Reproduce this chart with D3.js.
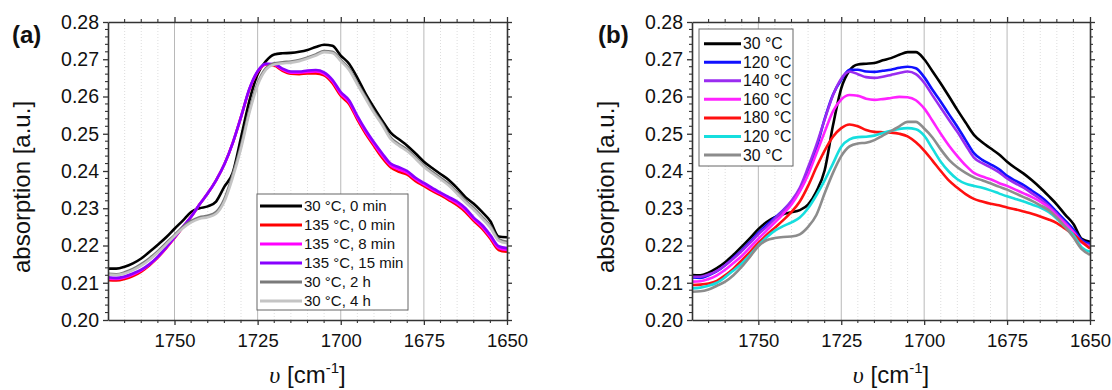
<!DOCTYPE html>
<html><head><meta charset="utf-8">
<script src="https://cdn.jsdelivr.net/npm/d3@7"></script>
<style>
body{margin:0;background:#fff}
svg{display:block}
text{font-family:"Liberation Sans",Arial,sans-serif;fill:#111}
</style>
</head><body>
<svg id="chart" width="1112" height="390"></svg>
<script>
// ---------- data ----------
const wavenumber = [1770,1767.5,1765,1762.5,1760,1757.5,1755,1752.5,1750,1747.5,1745,1742.5,1740,1737.5,1735,1732.5,1730,1727.5,1725,1722.5,1720,1717.5,1715,1712.5,1710,1707.5,1705,1702.5,1700,1697.5,1695,1692.5,1690,1687.5,1685,1682.5,1680,1677.5,1675,1672.5,1670,1667.5,1665,1662.5,1660,1657.5,1655,1652.5,1650];
const xTickValues = [1750,1725,1700,1675,1650];
const yTickValues = [0.20,0.21,0.22,0.23,0.24,0.25,0.26,0.27,0.28];

// panel (a)
const labelsA = ["30 °C, 0 min","135 °C, 0 min","135 °C, 8 min","135 °C, 15 min","30 °C, 2 h","30 °C, 4 h"];
const colorsA = ["#000000","#ff0000","#ff00ff","#8800ff","#7a7a7a","#c4c4c4"];
const a_30C_0min = [0.2138,0.2138,0.2143,0.2152,0.2165,0.2183,0.2202,0.2222,0.2245,0.2267,0.2290,0.2300,0.2305,0.2318,0.2358,0.2395,0.2490,0.2588,0.2660,0.2695,0.2713,0.2716,0.2717,0.2720,0.2725,0.2733,0.2739,0.2736,0.2710,0.2688,0.2650,0.2607,0.2570,0.2535,0.2503,0.2485,0.2468,0.2447,0.2425,0.2408,0.2392,0.2376,0.2354,0.2330,0.2312,0.2290,0.2265,0.2224,0.2222];
const a_135C_0min = [0.2107,0.2106,0.2110,0.2118,0.2130,0.2147,0.2168,0.2193,0.2220,0.2249,0.2277,0.2310,0.2340,0.2375,0.2418,0.2475,0.2545,0.2618,0.2666,0.2686,0.2683,0.2669,0.2661,0.2660,0.2662,0.2662,0.2657,0.2636,0.2602,0.2580,0.2538,0.2500,0.2467,0.2435,0.2410,0.2398,0.2390,0.2373,0.2360,0.2347,0.2335,0.2322,0.2308,0.2290,0.2266,0.2245,0.2218,0.2188,0.2183];
const a_135C_8min = [0.2111,0.2110,0.2114,0.2122,0.2133,0.2149,0.2169,0.2194,0.2221,0.2250,0.2277,0.2310,0.2340,0.2375,0.2418,0.2475,0.2545,0.2619,0.2667,0.2687,0.2685,0.2672,0.2664,0.2664,0.2666,0.2667,0.2661,0.2641,0.2607,0.2585,0.2543,0.2505,0.2472,0.2441,0.2415,0.2404,0.2395,0.2378,0.2364,0.2351,0.2339,0.2326,0.2313,0.2295,0.2271,0.2250,0.2223,0.2193,0.2188];
const a_135C_15min = [0.2115,0.2113,0.2117,0.2125,0.2135,0.2150,0.2170,0.2195,0.2222,0.2250,0.2277,0.2310,0.2340,0.2375,0.2418,0.2475,0.2545,0.2620,0.2668,0.2688,0.2687,0.2675,0.2667,0.2667,0.2670,0.2671,0.2665,0.2645,0.2612,0.2590,0.2548,0.2510,0.2477,0.2447,0.2420,0.2410,0.2400,0.2382,0.2368,0.2355,0.2342,0.2330,0.2318,0.2300,0.2275,0.2255,0.2228,0.2198,0.2193];
const a_30C_2h = [0.2124,0.2123,0.2128,0.2137,0.2150,0.2166,0.2185,0.2207,0.2228,0.2250,0.2266,0.2276,0.2280,0.2290,0.2325,0.2390,0.2468,0.2562,0.2635,0.2676,0.2689,0.2692,0.2694,0.2698,0.2705,0.2713,0.2722,0.2720,0.2698,0.2675,0.2636,0.2598,0.2560,0.2527,0.2490,0.2472,0.2457,0.2437,0.2415,0.2398,0.2382,0.2365,0.2343,0.2320,0.2300,0.2277,0.2252,0.2217,0.2210];
const a_30C_4h = [0.2122,0.2121,0.2125,0.2134,0.2146,0.2162,0.2181,0.2203,0.2225,0.2246,0.2262,0.2272,0.2276,0.2285,0.2318,0.2382,0.2460,0.2555,0.2630,0.2672,0.2686,0.2689,0.2691,0.2695,0.2702,0.2710,0.2719,0.2717,0.2695,0.2671,0.2632,0.2594,0.2556,0.2523,0.2486,0.2468,0.2453,0.2433,0.2411,0.2394,0.2378,0.2361,0.2339,0.2316,0.2296,0.2273,0.2248,0.2213,0.2206];

// panel (b)
const labelsB = ["30 °C","120 °C","140 °C","160 °C","180 °C","120 °C","30 °C"];
const colorsB = ["#000000","#1010ff","#9a2cf0","#ff22ff","#ff1010","#16dede","#8c8c8c"];
const b_30C = [0.2121,0.2120,0.2127,0.2139,0.2155,0.2175,0.2197,0.2220,0.2244,0.2263,0.2276,0.2284,0.2289,0.2295,0.2310,0.2345,0.2402,0.2522,0.2622,0.2670,0.2686,0.2688,0.2690,0.2697,0.2703,0.2712,0.2719,0.2719,0.2700,0.2668,0.2635,0.2600,0.2564,0.2530,0.2497,0.2477,0.2461,0.2445,0.2425,0.2408,0.2393,0.2375,0.2355,0.2333,0.2310,0.2283,0.2258,0.2218,0.2210];
const b_120C = [0.2114,0.2113,0.2120,0.2131,0.2147,0.2167,0.2187,0.2210,0.2234,0.2255,0.2275,0.2295,0.2318,0.2348,0.2395,0.2460,0.2540,0.2605,0.2645,0.2672,0.2672,0.2667,0.2666,0.2669,0.2672,0.2677,0.2680,0.2676,0.2652,0.2618,0.2586,0.2552,0.2519,0.2483,0.2448,0.2430,0.2418,0.2405,0.2387,0.2374,0.2362,0.2347,0.2332,0.2313,0.2290,0.2267,0.2243,0.2215,0.2205];
const b_140C = [0.2116,0.2116,0.2122,0.2132,0.2147,0.2165,0.2185,0.2207,0.2230,0.2250,0.2272,0.2294,0.2320,0.2355,0.2410,0.2470,0.2538,0.2603,0.2648,0.2667,0.2660,0.2652,0.2650,0.2653,0.2658,0.2663,0.2667,0.2660,0.2637,0.2603,0.2570,0.2537,0.2505,0.2470,0.2436,0.2421,0.2410,0.2397,0.2380,0.2367,0.2355,0.2340,0.2325,0.2307,0.2285,0.2262,0.2237,0.2210,0.2200];
const b_160C = [0.2103,0.2104,0.2110,0.2120,0.2135,0.2153,0.2172,0.2195,0.2218,0.2240,0.2262,0.2285,0.2310,0.2345,0.2390,0.2447,0.2505,0.2560,0.2592,0.2604,0.2602,0.2594,0.2591,0.2593,0.2596,0.2599,0.2598,0.2590,0.2568,0.2535,0.2500,0.2468,0.2440,0.2415,0.2395,0.2385,0.2378,0.2368,0.2360,0.2350,0.2340,0.2330,0.2318,0.2302,0.2280,0.2258,0.2235,0.2208,0.2197];
const b_180C = [0.2094,0.2095,0.2098,0.2105,0.2120,0.2138,0.2160,0.2183,0.2207,0.2228,0.2248,0.2268,0.2290,0.2318,0.2360,0.2410,0.2455,0.2492,0.2515,0.2525,0.2520,0.2510,0.2505,0.2504,0.2503,0.2500,0.2493,0.2477,0.2455,0.2428,0.2400,0.2374,0.2355,0.2338,0.2325,0.2318,0.2312,0.2308,0.2302,0.2297,0.2291,0.2285,0.2278,0.2270,0.2260,0.2245,0.2230,0.2210,0.2192];
const b_120C_back = [0.2085,0.2087,0.2092,0.2100,0.2115,0.2133,0.2152,0.2175,0.2200,0.2222,0.2240,0.2252,0.2262,0.2275,0.2300,0.2335,0.2375,0.2420,0.2465,0.2485,0.2491,0.2492,0.2495,0.2502,0.2508,0.2513,0.2515,0.2512,0.2495,0.2460,0.2425,0.2398,0.2378,0.2366,0.2360,0.2355,0.2348,0.2340,0.2332,0.2325,0.2318,0.2310,0.2302,0.2290,0.2272,0.2250,0.2228,0.2195,0.2183];
const b_30C_back = [0.2076,0.2077,0.2082,0.2092,0.2103,0.2120,0.2143,0.2170,0.2198,0.2214,0.2220,0.2223,0.2224,0.2230,0.2250,0.2282,0.2340,0.2395,0.2440,0.2466,0.2474,0.2476,0.2483,0.2495,0.2507,0.2520,0.2532,0.2532,0.2514,0.2490,0.2458,0.2430,0.2410,0.2395,0.2383,0.2375,0.2367,0.2358,0.2350,0.2340,0.2330,0.2320,0.2308,0.2295,0.2275,0.2250,0.2222,0.2190,0.2175];

const seriesA = [a_30C_0min,a_135C_0min,a_135C_8min,a_135C_15min,a_30C_2h,a_30C_4h];
const seriesB = [b_30C,b_120C,b_140C,b_160C,b_180C,b_120C_back,b_30C_back];

// ---------- drawing ----------
const svg = d3.select("#chart");
const plotTop = 22, plotBottom = 320;
const y = d3.scaleLinear().domain([0.20,0.28]).range([plotBottom, plotTop]);
const minorX = d3.range(1765, 1650, -5).filter(v => v % 25 !== 0);
const minorY = d3.range(0, 41).map(i => 0.20 + i*0.002).filter((v,i) => i % 5 !== 0);

function panel(left, right, series, labels, colors, tag, tagX, leg) {
  const x = d3.scaleLinear().domain([1770,1650]).range([left, right]);
  const g = svg.append("g");
  // grid
  g.append("g").selectAll("line").data(minorX).join("line")
    .attr("x1", d => x(d)).attr("x2", d => x(d)).attr("y1", plotTop).attr("y2", plotBottom)
    .attr("stroke", "#d4d4d4").attr("stroke-width", 0.8).attr("stroke-dasharray", "1,2");
  g.append("g").selectAll("line").data(xTickValues.filter(v => v !== 1650)).join("line")
    .attr("x1", d => x(d)).attr("x2", d => x(d)).attr("y1", plotTop).attr("y2", plotBottom)
    .attr("stroke", "#b8b8b8").attr("stroke-width", 1);
  // curves
  const line = d3.line().x((d,i) => x(wavenumber[i])).y(d => y(d)).curve(d3.curveMonotoneX);
  series.forEach((s, k) => {
    g.append("path").attr("d", line(s)).attr("fill", "none")
      .attr("stroke", colors[k]).attr("stroke-width", 2.6).attr("stroke-linejoin", "round");
  });
  // axes
  const axisStyle = fs => sel => {
    sel.select(".domain").attr("stroke", "#333").attr("stroke-width", 1.6);
    sel.selectAll(".tick line").attr("stroke", "#333").attr("stroke-width", 1.3);
    sel.selectAll("text").attr("font-size", fs).attr("fill", "#111")
      .style("font-family", '"Liberation Sans",Arial,sans-serif');
  };
  const fmt = d3.format(".2f");
  g.append("g").attr("transform", `translate(0,${plotBottom})`)
    .call(d3.axisBottom(x).tickValues(xTickValues).tickFormat(d3.format("d")).tickSize(5).tickPadding(9).tickSizeOuter(0))
    .call(axisStyle(18.5));
  g.append("g").attr("transform", `translate(0,${plotTop})`)
    .call(d3.axisTop(x).tickValues(xTickValues).tickFormat("").tickSize(5).tickSizeOuter(0))
    .call(axisStyle(18));
  g.append("g").attr("transform", `translate(${left},0)`)
    .call(d3.axisLeft(y).tickValues(yTickValues).tickFormat(fmt).tickSize(5).tickPadding(4).tickSizeOuter(0))
    .call(axisStyle(19.5));
  g.append("g").attr("transform", `translate(${right},0)`)
    .call(d3.axisRight(y).tickValues(yTickValues).tickFormat("").tickSize(5).tickSizeOuter(0))
    .call(axisStyle(18));
  // minor ticks
  const mt = (data, f) => g.append("g").selectAll("line").data(data).join("line").each(f)
    .attr("stroke", "#333").attr("stroke-width", 1.1);
  mt(minorX, function(d){ d3.select(this).attr("x1",x(d)).attr("x2",x(d)).attr("y1",plotBottom).attr("y2",plotBottom+3); });
  mt(minorX, function(d){ d3.select(this).attr("x1",x(d)).attr("x2",x(d)).attr("y1",plotTop).attr("y2",plotTop-3); });
  mt(minorY, function(d){ d3.select(this).attr("x1",left).attr("x2",left-3).attr("y1",y(d)).attr("y2",y(d)); });
  mt(minorY, function(d){ d3.select(this).attr("x1",right).attr("x2",right+3).attr("y1",y(d)).attr("y2",y(d)); });
  // axis labels
  g.append("text").attr("transform", `translate(${left-78},187) rotate(-90)`)
    .attr("text-anchor", "middle").attr("font-size", 24).text("absorption [a.u.]");
  const xl = g.append("text").attr("x", (left+right)/2).attr("y", 383)
    .attr("text-anchor", "middle").attr("font-size", 24);
  xl.append("tspan").style("font-family", '"Liberation Serif","Times New Roman",serif').attr("font-style", "italic").text("υ");
  xl.append("tspan").text(" [cm");
  xl.append("tspan").attr("font-size", 15).attr("dy", -10).text("-1");
  xl.append("tspan").attr("dy", 10).text("]");
  // panel tag
  g.append("text").attr("x", tagX).attr("y", 43).attr("font-size", 24).attr("font-weight", "bold").text(tag);
  // legend
  const lg = g.append("g");
  lg.append("rect").attr("x", leg.x).attr("y", leg.y).attr("width", leg.w).attr("height", leg.h)
    .attr("fill", "#fff").attr("stroke", "#666").attr("stroke-width", 1);
  labels.forEach((lab, k) => {
    const yy = leg.y0 + k*leg.dy;
    lg.append("line").attr("x1", leg.lx1).attr("x2", leg.lx2).attr("y1", yy).attr("y2", yy)
      .attr("stroke", colors[k]).attr("stroke-width", 3);
    lg.append("text").attr("x", leg.lx2 + 2).attr("y", yy).attr("dy", "0.35em")
      .attr("font-size", leg.fs).text(lab);
  });
}

panel(108, 507, seriesA, labelsA, colorsA, "(a)", 12,
  {x:257, y:194, w:151, h:116, y0:206, dy:19, lx1:260, lx2:302, fs:15});
panel(692, 1090, seriesB, labelsB, colorsB, "(b)", 598,
  {x:699, y:29, w:94, h:137, y0:43.7, dy:18.55, lx1:704, lx2:741, fs:15.8});
</script>
</body></html>
